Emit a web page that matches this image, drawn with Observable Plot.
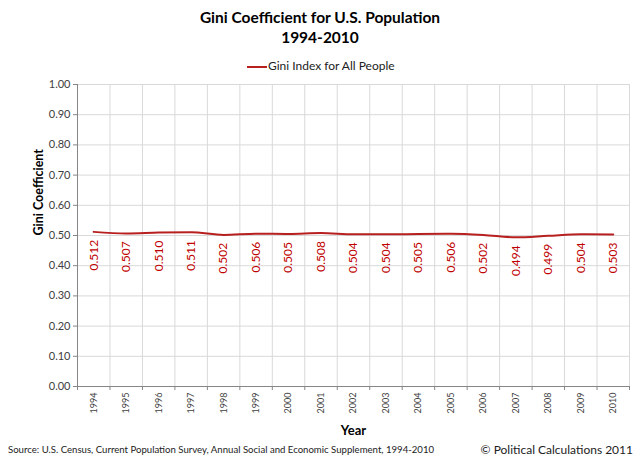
<!DOCTYPE html>
<html><head><meta charset="utf-8">
<script src="https://cdn.jsdelivr.net/npm/d3@7"></script>
<script src="https://cdn.jsdelivr.net/npm/@observablehq/plot@0.6"></script>
<style>
body{margin:0;background:#fff;font-family:Lato,"Open Sans",sans-serif;}
#wrap{position:relative;width:640px;height:465px;}
.t{position:absolute;white-space:nowrap;}
</style>
</head><body>
<div id="wrap">
  <div class="t" style="left:0;width:640px;top:7px;text-align:center;font-weight:bold;font-size:15.5px;line-height:20px;color:#000;">Gini Coefficient for U.S. Population<br>1994-2010</div>
  <div class="t" style="left:247px;top:58px;font-size:12px;color:#222;"><span style="display:inline-block;width:20px;height:2px;background:#b82020;vertical-align:middle;margin-right:1px;"></span>Gini Index for All People</div>
  <div class="t" style="left:8px;top:444px;font-size:9.6px;color:#222;">Source: U.S. Census, Current Population Survey, Annual Social and Economic Supplement, 1994-2010</div>
  <div class="t" style="right:7px;top:442px;font-size:12px;color:#222;">© Political Calculations 2011</div>
  <div id="chart" style="position:absolute;left:0;top:0;"></div>
</div>
<script>
const years = [1994,1995,1996,1997,1998,1999,2000,2001,2002,2003,2004,2005,2006,2007,2008,2009,2010];
const gini = [0.512,0.507,0.510,0.511,0.502,0.506,0.505,0.508,0.504,0.504,0.505,0.506,0.502,0.494,0.499,0.504,0.503];
const yTicks = [0,0.1,0.2,0.3,0.4,0.5,0.6,0.7,0.8,0.9,1.0];

const data = years.map((y,i)=>({year:y, value:gini[i]}));
const bounds = years.map(y=>y-0.5).concat([years[years.length-1]+0.5]);

const chart = Plot.plot({
  width:640, height:465,
  marginTop:84, marginBottom:79, marginLeft:77, marginRight:11,
  style:{fontFamily:"Lato, 'Open Sans', sans-serif", background:"transparent", overflow:"visible"},
  x:{type:"linear", domain:[years[0]-0.5, years[years.length-1]+0.5], axis:null},
  y:{type:"linear", domain:[0,1], axis:null},
  marks:[
    Plot.ruleY(yTicks.slice(1), {y:d=>d, stroke:"#d9d9d9", strokeWidth:1}),
    Plot.ruleX(bounds.slice(1), {x:d=>d, stroke:"#d9d9d9", strokeWidth:1}),
    Plot.ruleX([bounds[0]], {x:d=>d, stroke:"#868686", strokeWidth:1}),
    Plot.ruleY([0], {y:d=>d, stroke:"#868686", strokeWidth:1}),
    Plot.axisY({ticks:yTicks, tickFormat:".2f", tickSize:4, stroke:"#868686", tickPadding:3, fontSize:11, color:"#404040", label:null}),
    Plot.axisX({ticks:bounds, tickFormat:()=>"", tickSize:4, stroke:"#868686", label:null}),
    Plot.text(years, {x:d=>d, y:0, text:d=>String(d), rotate:-90, textAnchor:"end", dy:6, fontSize:9, fill:"#404040"}),
    Plot.text(["Year"], {frameAnchor:"bottom", dy:48, text:d=>d, fontWeight:"bold", fontSize:13, fill:"#000"}),
    Plot.text(["Gini Coefficient"], {frameAnchor:"left", dx:-39, rotate:-90, text:d=>d, fontWeight:"bold", fontSize:12.5, fill:"#000"}),
    Plot.line(data, {x:"year", y:"value", stroke:"#b82020", strokeWidth:2, curve:"monotone-x"}),
    Plot.text(data, {x:"year", y:"value", text:d=>d.value.toFixed(3), rotate:-90, textAnchor:"end", dy:8, fontSize:12, fill:"#c00000"})
  ]
});
document.getElementById("chart").appendChild(chart);
</script>
</body></html>
